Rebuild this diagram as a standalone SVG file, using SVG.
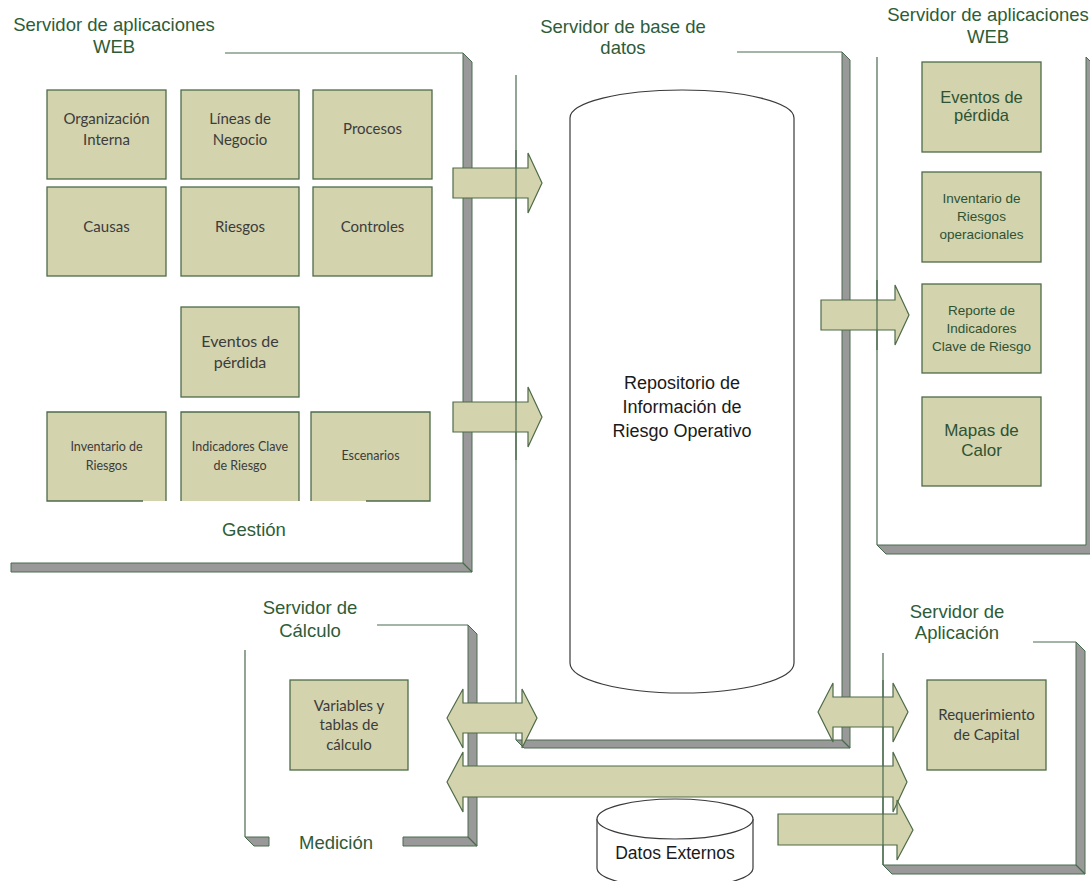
<svg xmlns="http://www.w3.org/2000/svg" width="1090" height="881" viewBox="0 0 1090 881">
<style>
.bg{fill:#ffffff}
.frame{fill:none;stroke:#4A6A4E;stroke-width:1.2}
.shadow{fill:#999999;stroke:#4A6A4E;stroke-width:1}
.box{fill:#D3D3AD;stroke:#4E6B49;stroke-width:1.3}
.boxf{fill:#D3D3AD;stroke:none}
.edge{fill:none;stroke:#4E6B49;stroke-width:1.3}
.arrow{fill:#D3D3AD;stroke:#4E6B49;stroke-width:1.2;stroke-linejoin:miter}
.cyl{fill:#ffffff;stroke:#3a3a3a;stroke-width:1.2}
.lbl{font-family:"Liberation Sans",Arial,sans-serif;font-size:18.5px;fill:#2E5C38;text-anchor:middle}
.cal{font-family:Lato,"Liberation Sans",sans-serif;fill:#3C3C3C;text-anchor:middle}
.grn{font-family:"Liberation Sans",Arial,sans-serif;fill:#2E5232;text-anchor:middle}
.blk{font-family:"Liberation Sans",Arial,sans-serif;fill:#1A1A1A;text-anchor:middle}
</style>
<rect class="bg" x="0" y="0" width="1090" height="881"/>

<g id="panel-gestion">
  <polygon class="shadow" points="463,53 472,62 472,572 11,572 11,563 463,563"/>
  <line class="frame" x1="463" y1="563" x2="472" y2="572"/>
  <line class="frame" x1="225" y1="53" x2="463" y2="53"/>
  <text class="lbl" x="114" y="31">Servidor de aplicaciones</text>
  <text class="lbl" x="114" y="53">WEB</text>
  <text class="lbl" x="254" y="536">Gestión</text>
</g>

<g id="panel-bd">
  <polygon class="shadow" points="842,52 850,60 850,748 524,748 516,740 842,740"/>
  <line class="frame" x1="842" y1="740" x2="850" y2="748"/>
  <line class="frame" x1="737" y1="52" x2="842" y2="52"/>
  <line class="frame" x1="516" y1="75" x2="516" y2="740"/>
  <text class="lbl" x="623" y="33">Servidor de base de</text>
  <text class="lbl" x="623" y="54">datos</text>
</g>

<g id="panel-web2">
  <polygon class="shadow" points="1086,57 1095,66 1095,554 886,554 877,545 1086,545"/>
  <line class="frame" x1="877" y1="57" x2="877" y2="545"/>
  <text class="lbl" x="988" y="21">Servidor de aplicaciones</text>
  <text class="lbl" x="988" y="43">WEB</text>
</g>

<g id="panel-calculo">
  <polygon class="shadow" points="468,625 477,634 477,846 403,846 403,837 468,837"/>
  <polygon class="shadow" points="245,837 269,837 269,846 254,846"/>
  <line class="frame" x1="468" y1="837" x2="477" y2="846"/>
  <line class="frame" x1="377" y1="625" x2="468" y2="625"/>
  <line class="frame" x1="245" y1="650" x2="245" y2="837"/>
  <text class="lbl" x="310" y="614">Servidor de</text>
  <text class="lbl" x="310" y="637">Cálculo</text>
  <text class="lbl" x="336" y="849">Medición</text>
</g>

<g id="panel-aplicacion">
  <polygon class="shadow" points="1076,642 1085,651 1085,874 892,874 883,865 1076,865"/>
  <line class="frame" x1="1076" y1="865" x2="1085" y2="874"/>
  <line class="frame" x1="1033" y1="642" x2="1076" y2="642"/>
  <line class="frame" x1="883" y1="653" x2="883" y2="865"/>
  <text class="lbl" x="957" y="618">Servidor de</text>
  <text class="lbl" x="957" y="639">Aplicación</text>
</g>

<g id="repositorio">
  <path class="cyl" d="M570,118 A112,28 0 0 1 794,118 L794,663 A112,30 0 0 1 570,663 Z"/>
  <text class="blk" font-size="18" x="682" y="389">Repositorio de</text>
  <text class="blk" font-size="18" x="682" y="413">Información de</text>
  <text class="blk" font-size="18" x="682" y="437">Riesgo Operativo</text>
</g>

<g id="datos-externos">
  <path class="cyl" d="M597,819 A78,20 0 0 1 753,819 L753,868 A78,20 0 0 1 597,868 Z"/>
  <path class="cyl" fill="none" d="M597,819 A78,20 0 0 0 753,819"/>
  <text class="blk" font-size="17.5" x="675" y="859">Datos Externos</text>
</g>

<g id="n-org"><rect class="box" x="47" y="90" width="119" height="89"/>
  <text class="cal" font-size="15" x="106.5" y="124">Organización</text>
  <text class="cal" font-size="15" x="106.5" y="145">Interna</text></g>
<g id="n-lineas"><rect class="box" x="181" y="90" width="118" height="89"/>
  <text class="cal" font-size="15" x="240" y="124">Líneas de</text>
  <text class="cal" font-size="15" x="240" y="145">Negocio</text></g>
<g id="n-procesos"><rect class="box" x="313" y="90" width="119" height="89"/>
  <text class="cal" font-size="15" x="372.5" y="134">Procesos</text></g>
<g id="n-causas"><rect class="box" x="47" y="187" width="119" height="89"/>
  <text class="cal" font-size="15" x="106.5" y="232">Causas</text></g>
<g id="n-riesgos"><rect class="box" x="181" y="187" width="118" height="89"/>
  <text class="cal" font-size="15" x="240" y="232">Riesgos</text></g>
<g id="n-controles"><rect class="box" x="313" y="187" width="119" height="89"/>
  <text class="cal" font-size="15" x="372.5" y="232">Controles</text></g>
<g id="n-eventos"><rect class="box" x="181" y="307" width="118" height="90"/>
  <text class="cal" font-size="16" x="240" y="347">Eventos de</text>
  <text class="cal" font-size="16" x="240" y="368">pérdida</text></g>
<g id="n-inventario">
  <rect class="boxf" x="47" y="412" width="119" height="89"/>
  <path class="edge" d="M143,501 L47,501 L47,412 L166,412 L166,501"/>
  <text class="cal" font-size="12.5" x="106.5" y="451">Inventario de</text>
  <text class="cal" font-size="12.5" x="106.5" y="470">Riesgos</text></g>
<g id="n-indicadores">
  <rect class="boxf" x="181" y="412" width="118" height="89"/>
  <path class="edge" d="M181,501 L181,412 L299,412 L299,501"/>
  <text class="cal" font-size="12.5" x="240" y="451">Indicadores Clave</text>
  <text class="cal" font-size="12.5" x="240" y="470">de Riesgo</text></g>
<g id="n-escenarios">
  <rect class="boxf" x="311" y="412" width="119" height="89"/>
  <path class="edge" d="M311,501 L311,412 L430,412 L430,501 L366,501"/>
  <text class="cal" font-size="12.5" x="370.5" y="460">Escenarios</text></g>

<g id="n-web-eventos"><rect class="box" x="922" y="62" width="119" height="90"/>
  <text class="grn" font-size="16.5" x="981.5" y="103">Eventos de</text>
  <text class="grn" font-size="16.5" x="981.5" y="121">pérdida</text></g>
<g id="n-web-inventario"><rect class="box" x="922" y="172" width="119" height="90"/>
  <text class="grn" font-size="13.5" x="981.5" y="203">Inventario de</text>
  <text class="grn" font-size="13.5" x="981.5" y="221">Riesgos</text>
  <text class="grn" font-size="13.5" x="981.5" y="239">operacionales</text></g>
<g id="n-web-reporte"><rect class="box" x="922" y="284" width="119" height="89"/>
  <text class="grn" font-size="13.5" x="981.5" y="315">Reporte de</text>
  <text class="grn" font-size="13.5" x="981.5" y="333">Indicadores</text>
  <text class="grn" font-size="13.5" x="981.5" y="351">Clave de Riesgo</text></g>
<g id="n-web-mapas"><rect class="box" x="922" y="397" width="119" height="89"/>
  <text class="grn" font-size="17" x="981.5" y="436">Mapas de</text>
  <text class="grn" font-size="17" x="981.5" y="456">Calor</text></g>

<g id="n-variables"><rect class="box" x="290" y="680" width="118" height="90"/>
  <text class="cal" font-size="15" x="349" y="711">Variables y</text>
  <text class="cal" font-size="15" x="349" y="730">tablas de</text>
  <text class="cal" font-size="15" x="349" y="750">cálculo</text></g>
<g id="n-capital"><rect class="box" x="927" y="680" width="119" height="90"/>
  <text class="cal" font-size="15" x="986.5" y="720">Requerimiento</text>
  <text class="cal" font-size="15" x="986.5" y="740">de Capital</text></g>

<g id="connectors">
  <polygon class="arrow" points="453,168 528,168 528,153 542,183 528,213 528,198 453,198"/>
  <polygon class="arrow" points="453,402 528,402 528,387 542,417 528,447 528,432 453,432"/>
  <polygon class="arrow" points="821,300 895,300 895,285 909,315 895,345 895,330 821,330"/>
  <polygon class="arrow" points="447,718 463,689 463,703 522,703 522,689 537,718 522,748 522,733 463,733 463,748"/>
  <polygon class="arrow" points="818,712 833,683 833,697 893,697 893,683 908,712 893,742 893,727 833,727 833,742"/>
  <polygon class="arrow" points="447,782 463,752 463,766 893,766 893,752 907,782 893,812 893,797 463,797 463,812"/>
  <polygon class="arrow" points="778,814 897,814 897,800 913,830 897,860 897,845 778,845"/>
  <line class="frame" x1="516" y1="150" x2="516" y2="460"/>
  <line class="frame" x1="877" y1="280" x2="877" y2="350"/>
  <line class="frame" x1="883" y1="680" x2="883" y2="865"/>
</g>
</svg>
